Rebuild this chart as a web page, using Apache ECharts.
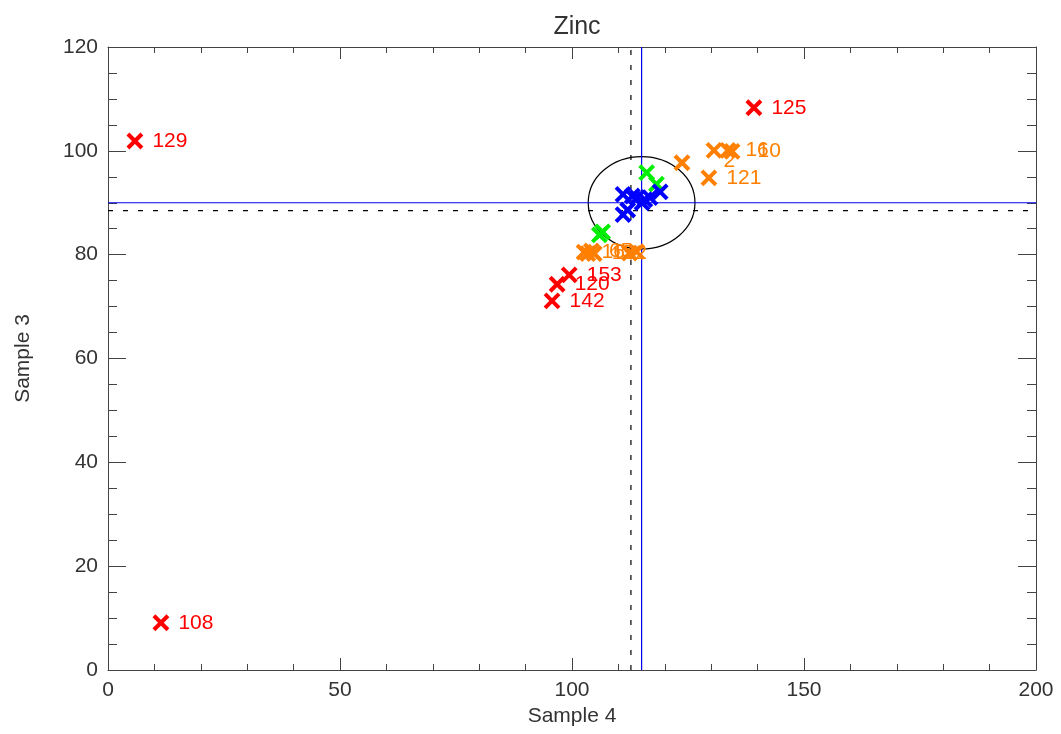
<!DOCTYPE html>
<html>
<head>
<meta charset="utf-8">
<style>
html,body{margin:0;padding:0;background:#fff;}
#chart{width:1061px;height:734px;}
</style>
<script src="https://cdn.jsdelivr.net/npm/echarts@6/dist/echarts.min.js"></script>
</head>
<body>
<div id="chart"></div>
<script>
// ---- data ----
const titleText = 'Zinc';
const xName = 'Sample 4';
const yName = 'Sample 3';
const xRange = [0, 200];
const yRange = [0, 120];

// [x, y, label]
const redPoints = [
  [5.8, 101.9, '129'],
  [11.4, 9.1, '108'],
  [139.2, 108.3, '125'],
  [95.7, 71.1, '142'],
  [99.4, 76.1, '153'],
  [96.8, 74.3, '120']
];
const orangePoints = [
  [123.7, 97.7, ''],
  [129.5, 94.8, '121'],
  [130.6, 100.1, '2'],
  [133.6, 100.1, '16'],
  [134.5, 99.9, '10'],
  [102.6, 80.5, '16'],
  [103.4, 80.2, ''],
  [104.2, 80.7, '65'],
  [104.8, 80.2, '152'],
  [112.4, 80.3, ''],
  [113.9, 80.6, '']
];
const greenPoints = [
  [116.1, 95.8],
  [118.2, 93.6],
  [106.6, 84.4],
  [105.9, 83.8]
];
const bluePoints = [
  [111.0, 91.6],
  [113.0, 91.3],
  [114.0, 91.0],
  [115.7, 90.6],
  [119.0, 92.1],
  [111.0, 87.7],
  [112.0, 88.6],
  [115.1, 90.0],
  [116.8, 91.0]
];
// reference lines
const meanX = 115.0, meanY = 90.0;
const medianX = 112.7, medianY = 88.5;
// ellipse: [cx, cy, rx, ry]
const ellipse = [[115.0, 90.0, 11.5, 8.9]];

// ---- chart ----
const chart = echarts.init(document.getElementById('chart'));
const FONT = 'Liberation Sans';
const axisColor = '#444';
const XPATH = 'path://M0,0L10,10M10,0L0,10';

function scatterSeries(data, color, z) {
  return {
    type: 'scatter',
    data: data,
    z: z,
    symbol: XPATH,
    symbolSize: 14,
    itemStyle: { color: 'none', borderColor: color, borderWidth: 4, opacity: 1 },
    label: {
      show: true,
      position: 'right',
      distance: 8,
      color: color,
      fontSize: 21,
      fontFamily: FONT,
      formatter: p => (p.value[2] || '')
    },
    emphasis: { disabled: true },
    silent: true
  };
}

const orangeData = orangePoints.map(p => {
  if (p[2] === '2') return { value: p, label: { offset: [-8, 11] } };
  if (p[2] === '10') return { value: p, label: { offset: [8, 0] } };
  return { value: p };
});

function xAxisCfg(pos, showLabel) {
  return {
    type: 'value', position: pos, min: xRange[0], max: xRange[1], interval: 50,
    name: showLabel ? xName : '', nameLocation: 'middle', nameGap: 36,
    nameTextStyle: { fontSize: 21, color: '#333', fontFamily: FONT },
    axisLine: { show: true, onZero: false, lineStyle: { color: axisColor, width: 1 } },
    axisTick: { show: true, inside: true, length: 12, lineStyle: { color: axisColor } },
    minorTick: { show: true, splitNumber: 5, length: 6, lineStyle: { color: axisColor } },
    axisLabel: { show: showLabel, fontSize: 21, color: '#333', margin: 10, fontFamily: FONT },
    splitLine: { show: false }
  };
}
function yAxisCfg(pos, showLabel) {
  return {
    type: 'value', position: pos, min: yRange[0], max: yRange[1], interval: 20,
    name: showLabel ? yName : '', nameLocation: 'middle', nameGap: 74, nameRotate: 90,
    nameTextStyle: { fontSize: 21, color: '#333', fontFamily: FONT },
    axisLine: { show: true, onZero: false, lineStyle: { color: axisColor, width: 1 } },
    axisTick: { show: true, inside: true, length: 18, lineStyle: { color: axisColor } },
    minorTick: { show: true, splitNumber: 4, length: 9, lineStyle: { color: axisColor } },
    axisLabel: { show: showLabel, fontSize: 21, color: '#333', margin: 10, fontFamily: FONT },
    splitLine: { show: false }
  };
}

// reference lines drawn as line series spanning the axis range
function refLine(points, color, type, width) {
  return {
    type: 'line',
    data: points,
    z: 2,
    silent: true,
    symbol: 'none',
    showSymbol: false,
    lineStyle: { color: color, width: width, type: type },
    itemStyle: { color: color },
    emphasis: { disabled: true }
  };
}

const option = {
  animation: false,
  backgroundColor: '#fff',
  title: {
    text: titleText, left: 572, top: 10, textAlign: 'center',
    textStyle: { fontSize: 25, fontWeight: 'normal', color: '#333', fontFamily: FONT }
  },
  grid: { left: 108, right: 25, top: 47, bottom: 64, containLabel: false },
  xAxis: [xAxisCfg('bottom', true), xAxisCfg('top', false)],
  yAxis: [yAxisCfg('left', true), yAxisCfg('right', false)],
  series: [
    {
      type: 'custom',
      data: ellipse,
      z: 1,
      silent: true,
      renderItem: function (params, api) {
        const c = api.coord([api.value(0), api.value(1)]);
        const s = api.size([api.value(2), api.value(3)]);
        const rx = s[0], ry = s[1];
        const d = 'M' + (c[0] - rx) + ' ' + c[1] +
          ' A' + rx + ' ' + ry + ' 0 1 0 ' + (c[0] + rx) + ' ' + c[1] +
          ' A' + rx + ' ' + ry + ' 0 1 0 ' + (c[0] - rx) + ' ' + c[1] + ' Z';
        return {
          type: 'path',
          shape: { pathData: d },
          style: { fill: 'none', stroke: '#000', lineWidth: 1.2 }
        };
      }
    },
    refLine([[medianX, yRange[0]], [medianX, yRange[1]]], '#000000', [5, 10], 1.2),
    refLine([[xRange[0], medianY], [xRange[1], medianY]], '#000000', [5, 10], 1.2),
    refLine([[meanX, yRange[0]], [meanX, yRange[1]]], '#0000ee', 'solid', 1.2),
    refLine([[xRange[0], meanY], [xRange[1], meanY]], '#0000ee', 'solid', 1.2),
    scatterSeries(redPoints, '#ff0000', 3),
    scatterSeries(orangeData, '#ff8000', 4),
    scatterSeries(greenPoints, '#00ee00', 5),
    scatterSeries(bluePoints, '#0000ff', 6)
  ]
};
chart.setOption(option);
</script>
</body>
</html>
